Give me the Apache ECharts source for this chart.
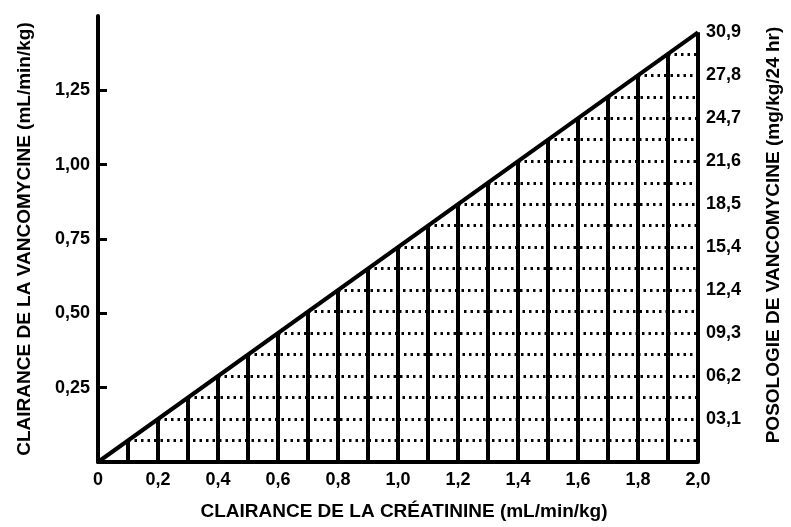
<!DOCTYPE html>
<html>
<head>
<meta charset="utf-8">
<script src="https://cdn.jsdelivr.net/npm/echarts@6/dist/echarts.min.js"></script>
<style>
  html, body { margin: 0; padding: 0; background: #fff; }
  #chart { width: 791px; height: 527px; }
</style>
</head>
<body>
<div id="chart"></div>
<script>
// clairance de la créatinine (mL/min/kg) at each vertical bar
const creatinine = [0.1, 0.2, 0.3, 0.4, 0.5, 0.6, 0.7, 0.8, 0.9, 1.0,
  1.1, 1.2, 1.3, 1.4, 1.5, 1.6, 1.7, 1.8, 1.9, 2.0]
// clairance de la vancomycine (mL/min/kg) read at the top of each bar
const vancomycine = [0.072, 0.145, 0.217, 0.289, 0.361, 0.434, 0.506, 0.578, 0.650, 0.723,
  0.795, 0.867, 0.939, 1.012, 1.084, 1.156, 1.228, 1.301, 1.373, 1.445]
// right axis tick labels (posologie, mg/kg/24 hr)
const doseLabels = ['03,1', '06,2', '09,3', '12,4', '15,4', '18,5', '21,6', '24,7', '27,8', '30,9']
const doseStep = 3.09
const doseMax = 30.9

const FONT = 'Liberation Sans'
const INK = '#000'

const chart = echarts.init(document.getElementById('chart'))

const leftMax = 1.5
const rightMax = leftMax * doseMax / vancomycine[vancomycine.length - 1]
const xEnd = creatinine[creatinine.length - 1]

const textStyle = { color: INK, fontFamily: FONT, fontSize: 18, fontWeight: 'bold' }
const nameStyle = Object.assign({}, textStyle, { fontSize: 19 })

const option = {
  animation: false,
  grid: { left: 98, right: 91, top: 16, bottom: 65 },
  xAxis: {
    type: 'value',
    min: 0,
    max: 2,
    interval: 0.2,
    name: 'CLAIRANCE DE LA CRÉATININE (mL/min/kg)',
    nameLocation: 'middle',
    nameGap: 40,
    nameTextStyle: Object.assign({}, nameStyle, { padding: [0, 0, 0, 12] }),
    axisLine: { lineStyle: { color: INK, width: 4 } },
    axisTick: { show: false },
    splitLine: { show: false },
    axisLabel: Object.assign({}, textStyle, {
      margin: 9,
      formatter: v => v === 0 ? '0' : v.toFixed(1).replace('.', ',')
    })
  },
  yAxis: [{
    type: 'value',
    min: 0,
    max: leftMax,
    interval: 0.25,
    name: 'CLAIRANCE DE LA VANCOMYCINE (mL/min/kg)',
    nameLocation: 'middle',
    nameRotate: 90,
    nameGap: 64,
    nameTextStyle: nameStyle,
    axisLine: { show: true, lineStyle: { color: INK, width: 4 } },
    axisTick: { show: true, inside: true, length: 9, lineStyle: { color: INK, width: 3 } },
    splitLine: { show: false },
    axisLabel: Object.assign({}, textStyle, {
      margin: 8,
      showMinLabel: false,
      showMaxLabel: false,
      formatter: v => v.toFixed(2).replace('.', ',')
    })
  }, {
    type: 'value',
    position: 'right',
    min: 0,
    max: rightMax,
    interval: doseStep,
    name: 'POSOLOGIE DE VANCOMYCINE (mg/kg/24 hr)',
    nameLocation: 'middle',
    nameRotate: 90,
    nameGap: 66,
    nameTextStyle: Object.assign({}, nameStyle, { padding: [0, 0, 0, 8] }),
    axisLine: { show: false },
    axisTick: { show: false },
    splitLine: { show: false },
    axisLabel: Object.assign({}, textStyle, {
      margin: 8,
      formatter: v => {
        const k = Math.round(v / doseStep)
        if (k < 1 || Math.abs(v / doseStep - k) > 0.01) return ''
        return doseLabels[k - 1] || ''
      }
    })
  }],
  series: [
    {
      // dotted rows from each bar top to the right edge
      type: 'lines',
      coordinateSystem: 'cartesian2d',
      silent: true,
      z: 1,
      lineStyle: { color: INK, width: 2.8, type: [2.5, 4], cap: 'butt', opacity: 1 },
      data: creatinine.slice(0, -1).map((x, i) => ({ coords: [[x, vancomycine[i]], [xEnd, vancomycine[i]]] }))
    },
    {
      type: 'bar',
      barWidth: 4,
      z: 2,
      itemStyle: { color: INK },
      data: creatinine.map((x, i) => [x, vancomycine[i]])
    },
    {
      type: 'line',
      z: 3,
      symbol: 'none',
      lineStyle: { color: INK, width: 4 },
      data: [[0, 0], [xEnd, vancomycine[vancomycine.length - 1]]]
    }
  ]
}

chart.setOption(option)
</script>
</body>
</html>
